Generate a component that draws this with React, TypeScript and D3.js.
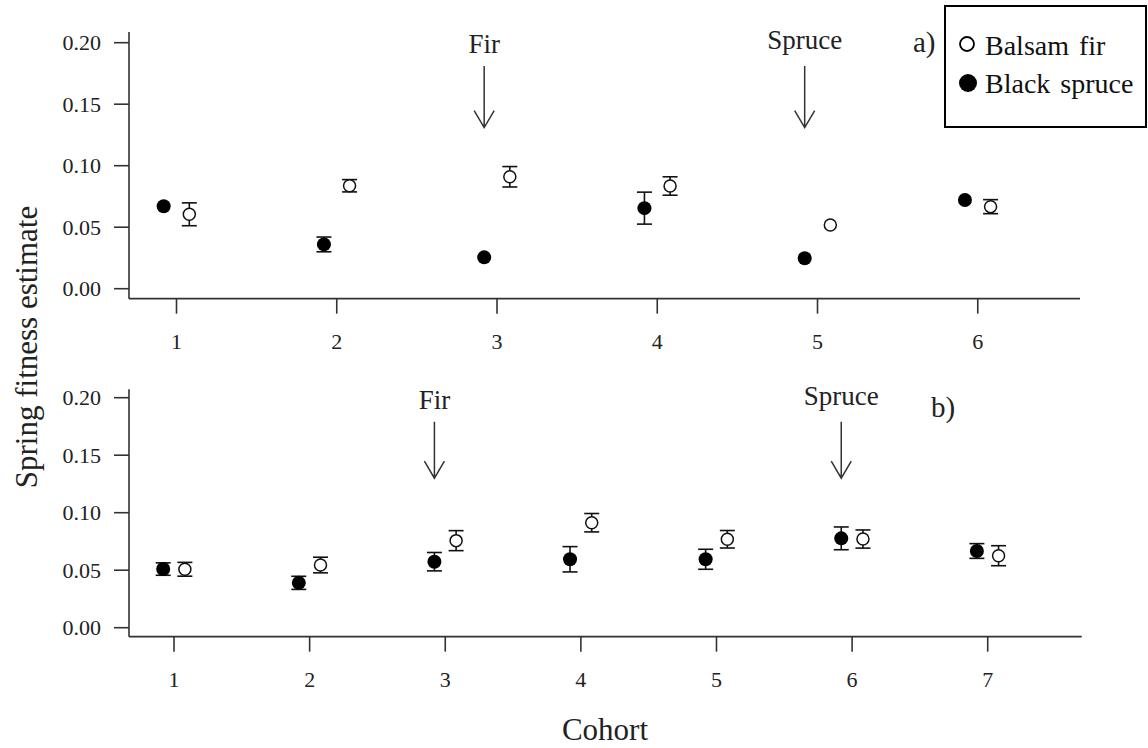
import React from "react";
import * as d3 from "d3";

// Panel a) — cohorts 1..6
const cohortsA = [1, 2, 3, 4, 5, 6];
const spruceA = [0.067, 0.036, 0.0255, 0.0655, 0.0247, 0.0721];
const spruceSeA: (number | null)[] = [null, 0.006, null, 0.013, null, null];
const firA = [0.0605, 0.0837, 0.091, 0.0835, 0.0518, 0.0667];
const firSeA: (number | null)[] = [0.0093, 0.005, 0.0083, 0.0075, null, 0.0057];

// Panel b) — cohorts 1..7
const cohortsB = [1, 2, 3, 4, 5, 6, 7];
const spruceB = [0.051, 0.039, 0.0574, 0.0595, 0.0595, 0.0777, 0.0667];
const spruceSeB: (number | null)[] = [0.0054, 0.0057, 0.008, 0.011, 0.0087, 0.0099, 0.0064];
const firB = [0.0508, 0.0545, 0.0757, 0.0913, 0.0769, 0.0771, 0.0626];
const firSeB: (number | null)[] = [0.006, 0.0068, 0.0087, 0.008, 0.0076, 0.0079, 0.0087];

const yTicks = [0, 0.05, 0.1, 0.15, 0.2];

// Outbreak markers: cohort position of the arrow and its label
const arrowsA = [
  { label: "Fir", x: 2.92, dy: -13 },
  { label: "Spruce", x: 4.92, dy: -17 },
];
const arrowsB = [
  { label: "Fir", x: 2.92, dy: -13 },
  { label: "Spruce", x: 5.92, dy: -17 },
];

const FONT = "'Liberation Serif', 'Times New Roman', serif";
const INK = "#222";
const OFFSET = 0.08;

type PanelProps = {
  cohorts: number[];
  spruce: number[];
  spruceSe: (number | null)[];
  fir: number[];
  firSe: (number | null)[];
  xDomain: [number, number];
  xRange: [number, number];
  yRange: [number, number];
  yExtent: [number, number];
  arrows: { label: string; x: number; dy: number }[];
  arrowTop: number;
  arrowBottom: number;
  tag: string;
  tagX: number;
  tagY: number;
};

function Panel(p: PanelProps) {
  const x = d3.scaleLinear().domain(p.xDomain).range(p.xRange);
  const y = d3.scaleLinear().domain([0, 0.2]).range(p.yRange);
  const x0 = p.xRange[0];
  const yBase = y(p.yExtent[0]);
  const yTop = y(p.yExtent[1]);
  const tick = 15;
  const cap = 7.5;

  const errBar = (cx: number, v: number, se: number | null, key: string) =>
    se == null ? null : (
      <g key={key} stroke="#111" strokeWidth={1.6}>
        <line x1={cx} x2={cx} y1={y(v - se)} y2={y(v + se)} />
        <line x1={cx - cap} x2={cx + cap} y1={y(v - se)} y2={y(v - se)} />
        <line x1={cx - cap} x2={cx + cap} y1={y(v + se)} y2={y(v + se)} />
      </g>
    );

  return (
    <g fontFamily={FONT} fill={INK}>
      {/* axes */}
      <line x1={x0} x2={x0} y1={yTop} y2={yBase} stroke="#333" strokeWidth={1.6} />
      <line x1={x0} x2={p.xRange[1]} y1={yBase} y2={yBase} stroke="#333" strokeWidth={1.6} />
      {yTicks.map((t) => (
        <g key={t}>
          <line x1={x0 - tick} x2={x0} y1={y(t)} y2={y(t)} stroke="#333" strokeWidth={1.6} />
          <text x={x0 - 28} y={y(t)} dy="0.35em" textAnchor="end" fontSize={22}>
            {d3.format(".2f")(t)}
          </text>
        </g>
      ))}
      {p.cohorts.map((c) => (
        <g key={c}>
          <line x1={x(c)} x2={x(c)} y1={yBase} y2={yBase + tick} stroke="#333" strokeWidth={1.6} />
          <text x={x(c)} y={yBase + 43} dy="0.35em" textAnchor="middle" fontSize={22}>
            {c}
          </text>
        </g>
      ))}

      {/* black spruce: filled markers */}
      {p.cohorts.map((c, i) => (
        <g key={"s" + c}>
          {errBar(x(c - OFFSET), p.spruce[i], p.spruceSe[i], "se")}
          <circle cx={x(c - OFFSET)} cy={y(p.spruce[i])} r={7} fill="#000" />
        </g>
      ))}

      {/* balsam fir: open markers */}
      {p.cohorts.map((c, i) => (
        <g key={"f" + c}>
          {errBar(x(c + OFFSET), p.fir[i], p.firSe[i], "fe")}
          <circle cx={x(c + OFFSET)} cy={y(p.fir[i])} r={6} fill="#fff" stroke="#111" strokeWidth={1.5} />
        </g>
      ))}

      {/* outbreak arrows */}
      {p.arrows.map((a) => {
        const ax = x(a.x);
        const t = y(p.arrowTop);
        const b = y(p.arrowBottom);
        return (
          <g key={a.label}>
            <text x={ax} y={t + a.dy} textAnchor="middle" fontSize={27}>
              {a.label}
            </text>
            <path
              d={`M${ax},${t}L${ax},${b}M${ax - 10},${b - 17}L${ax},${b}L${ax + 10},${b - 17}`}
              fill="none"
              stroke="#333"
              strokeWidth={1.5}
            />
          </g>
        );
      })}

      <text x={p.tagX} y={p.tagY} fontSize={29}>
        {p.tag}
      </text>
    </g>
  );
}

export default function App() {
  return (
    <svg
      width={1148}
      height={748}
      style={{ position: "absolute", left: 0, top: 0, background: "#fff" }}
    >
      <rect width={1148} height={748} fill="#fff" />
      <Panel
        cohorts={cohortsA}
        spruce={spruceA}
        spruceSe={spruceSeA}
        fir={firA}
        firSe={firSeA}
        xDomain={[0.7036, 6.638]}
        xRange={[129, 1080]}
        yRange={[288.7, 42.7]}
        yExtent={[-0.0081, 0.2088]}
        arrows={arrowsA}
        arrowTop={0.181}
        arrowBottom={0.131}
        tag="a)"
        tagX={913}
        tagY={52}
      />
      <Panel
        cohorts={cohortsB}
        spruce={spruceB}
        spruceSe={spruceSeB}
        fir={firB}
        firSe={firSeB}
        xDomain={[0.668, 7.693]}
        xRange={[129, 1081.7]}
        yRange={[627.7, 397.7]}
        yExtent={[-0.0078, 0.2073]}
        arrows={arrowsB}
        arrowTop={0.179}
        arrowBottom={0.13}
        tag="b)"
        tagX={931}
        tagY={417}
      />

      {/* legend */}
      <g fontFamily={FONT} fill="#111">
        <rect x={945} y={6} width={201} height={121} fill="#fff" stroke="#000" strokeWidth={2} />
        <circle cx={967} cy={44} r={7} fill="#fff" stroke="#000" strokeWidth={1.8} />
        <text x={985} y={55} fontSize={28} wordSpacing={3}>Balsam fir</text>
        <circle cx={968} cy={83} r={9} fill="#000" />
        <text x={985} y={93} fontSize={28} wordSpacing={3}>Black spruce</text>
      </g>

      {/* axis titles */}
      <text
        fontFamily={FONT}
        fontSize={31}
        fill={INK}
        textAnchor="middle"
        transform="translate(37,347) rotate(-90)"
      >
        Spring fitness estimate
      </text>
      <text fontFamily={FONT} fontSize={31} fill={INK} textAnchor="middle" x={605} y={740}>
        Cohort
      </text>
    </svg>
  );
}
